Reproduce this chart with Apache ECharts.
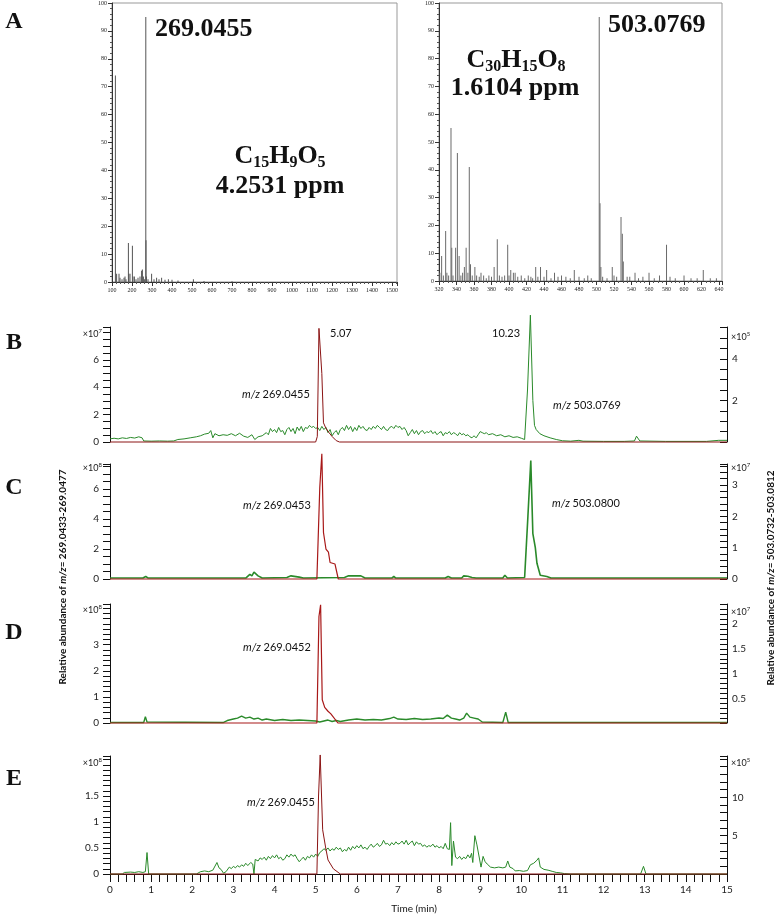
<!DOCTYPE html>
<html><head><meta charset="utf-8">
<script src="https://cdn.jsdelivr.net/npm/echarts@6/dist/echarts.min.js"></script>
<style>html,body{margin:0;padding:0;background:#fff}#c{width:779px;height:915px}</style>
</head><body><div id="c"></div>
<script>
// ---------- DATA ----------
// Panel A: mass spectra [m/z, relative abundance %]
const specLeft = [[117,74],[123,3],[135,3],[140,1.5],[150,1],[160,1.5],[165,2],[170,1],[182,14],[184,3],[190,3],[202,13],[205,2],[212,2],[220,1],[230,1.5],[240,2],[248,4],[252,4.5],[257,2],[262,1],[269,95],[270,15],[272,2],[280,1],[298,3],[310,1],[323,1.5],[335,1],[348,1.5],[365,0.8],[382,1],[400,0.8],[430,0.5],[507,1],[560,0.4],[700,0.3]];
const specRight = [[321,3],[323,9],[325,2],[327.6,18],[329,3],[331,2],[333.7,55],[334.6,12],[336,2],[339,12],[341,46],[343,9],[345,2],[347,3],[349,5],[351,12],[353,3],[354.6,41],[356,6],[358,2],[361,5],[363,2],[366,1.5],[368,3],[371,2],[374,1],[377,2],[380,1.5],[383,5],[386.6,15],[389,2],[392,1.5],[395,2],[398.5,13],[400,2],[402,4],[405,3],[407,3],[410,1.5],[414,2],[418,1],[422,2],[425,1.5],[427,1],[430.5,5],[433,1.5],[436,5],[440,1.5],[443,4],[448,1],[452,3],[456,1.5],[460,2],[465,1.5],[470,1],[474.6,4],[480,1.5],[486,1],[490,2],[494,1],[503.1,95],[504,28],[505,5],[507,1.5],[512,1],[518,5],[520,2],[523,1.5],[528,23],[529.5,17],[530.6,7],[535,1.5],[538,1.5],[544,3],[548,1],[553,1.5],[560,3],[566,1],[572,2],[580,13],[584,1.5],[590,1],[600,2],[608,1],[615,1],[622,4],[630,1],[637,1]];

// Panels B-E: chromatograms [time (min), abundance]
const bRed = [[0,0],[5.0,0],[5.04,0.4],[5.08,8.3],[5.11,8.4],[5.15,5.0],[5.19,1.4],[5.25,1.0],[5.32,0.7],[5.4,0.4],[5.5,0.1],[5.58,0],[15,0]];
const bGreen = [[0,0.15],[0.1,0.18],[0.2,0.15],[0.3,0.2],[0.4,0.17],[0.5,0.22],[0.6,0.19],[0.7,0.25],[0.78,0.2],[0.82,0.05],[1.0,0.04],[1.2,0.05],[1.4,0.04],[1.55,0.05],[1.65,0.12],[1.8,0.15],[1.95,0.2],[2.1,0.25],[2.2,0.3],[2.3,0.38],[2.4,0.42],[2.45,0.55],[2.5,0.2],[2.55,0.4],[2.65,0.3],[2.75,0.35],[2.85,0.32],[2.95,0.4],[3.05,0.3],[3.15,0.42],[3.25,0.28],[3.35,0.22],[3.45,0.35],[3.52,0.12],[3.6,0.25],[3.7,0.3],[3.8,0.45],[3.85,0.35],[3.9,0.65],[3.95,0.5],[4.0,0.6],[4.05,0.45],[4.1,0.7],[4.15,0.5],[4.2,0.55],[4.25,0.35],[4.3,0.6],[4.35,0.7],[4.4,0.5],[4.45,0.65],[4.5,0.4],[4.55,0.72],[4.6,0.55],[4.65,0.75],[4.7,0.5],[4.75,0.7],[4.8,0.65],[4.85,0.8],[4.9,0.7],[4.95,0.75],[5.0,0.65],[5.05,0.7],[5.1,0.55],[5.15,0.75],[5.2,0.6],[5.25,0.7],[5.3,0.45],[5.35,0.6],[5.4,0.3],[5.45,0.45],[5.5,0.55],[5.55,0.35],[5.6,0.6],[5.65,0.7],[5.7,0.55],[5.75,0.8],[5.8,0.6],[5.85,0.75],[5.9,0.5],[5.95,0.7],[6.0,0.55],[6.05,0.8],[6.1,0.65],[6.15,0.75],[6.2,0.6],[6.25,0.55],[6.3,0.7],[6.35,0.6],[6.4,0.75],[6.45,0.65],[6.5,0.8],[6.55,0.7],[6.6,0.6],[6.65,0.75],[6.7,0.6],[6.75,0.55],[6.8,0.7],[6.85,0.75],[6.9,0.65],[6.95,0.8],[7.0,0.7],[7.05,0.75],[7.1,0.6],[7.15,0.7],[7.2,0.55],[7.25,0.3],[7.3,0.45],[7.35,0.6],[7.4,0.4],[7.45,0.55],[7.5,0.35],[7.55,0.5],[7.6,0.55],[7.65,0.4],[7.7,0.5],[7.75,0.45],[7.8,0.55],[7.85,0.4],[7.9,0.5],[7.95,0.35],[8.0,0.45],[8.05,0.5],[8.1,0.3],[8.15,0.45],[8.2,0.4],[8.25,0.5],[8.3,0.35],[8.35,0.45],[8.4,0.4],[8.45,0.3],[8.5,0.45],[8.55,0.35],[8.6,0.4],[8.65,0.3],[8.7,0.35],[8.75,0.25],[8.8,0.2],[8.85,0.3],[8.9,0.2],[8.95,0.35],[9.0,0.5],[9.05,0.45],[9.1,0.4],[9.15,0.45],[9.2,0.35],[9.3,0.4],[9.4,0.3],[9.5,0.35],[9.6,0.25],[9.7,0.3],[9.8,0.22],[9.9,0.25],[10.0,0.18],[10.08,0.12],[10.15,2.5],[10.22,6.1],[10.28,2.0],[10.32,0.8],[10.36,0.6],[10.45,0.4],[10.55,0.3],[10.7,0.2],[10.85,0.12],[11.0,0.06],[11.2,0.04],[11.4,0.08],[11.5,0.04],[12.0,0.03],[12.5,0.03],[12.75,0.05],[12.8,0.28],[12.88,0.05],[13.5,0.03],[14.5,0.03],[14.8,0.08],[15.0,0.08]];
const cRed = [[0,0],[5.03,0],[5.1,6.1],[5.15,8.35],[5.19,3.1],[5.25,2.0],[5.31,1.8],[5.35,1.1],[5.47,1.0],[5.55,0],[15,0]];
const cGreen = [[0,0.03],[0.8,0.03],[0.87,0.08],[0.93,0.03],[3.3,0.03],[3.4,0.15],[3.45,0.1],[3.5,0.22],[3.6,0.1],[3.7,0.03],[4.3,0.05],[4.4,0.1],[4.6,0.06],[4.7,0.03],[5.7,0.05],[5.8,0.1],[6.1,0.1],[6.2,0.03],[6.85,0.03],[6.9,0.08],[6.95,0.03],[8.15,0.03],[8.22,0.08],[8.3,0.03],[8.55,0.03],[8.6,0.1],[8.7,0.09],[8.8,0.05],[8.9,0.03],[9.55,0.03],[9.6,0.12],[9.66,0.03],[10.08,0.05],[10.16,2.0],[10.23,3.78],[10.28,1.45],[10.34,1.0],[10.38,0.5],[10.46,0.12],[10.62,0.08],[10.72,0.03],[15,0.03]];
const dRed = [[0,0],[5.03,0],[5.08,4.08],[5.12,4.53],[5.16,0.89],[5.22,0.6],[5.3,0.45],[5.37,0.35],[5.54,0],[15,0]];
const dGreen = [[0,0.01],[0.82,0.01],[0.86,0.13],[0.9,0.02],[2.75,0.01],[2.85,0.05],[3.0,0.08],[3.1,0.1],[3.2,0.14],[3.3,0.1],[3.4,0.12],[3.5,0.08],[3.6,0.1],[3.7,0.06],[3.8,0.08],[4.0,0.05],[4.2,0.07],[4.4,0.05],[4.6,0.06],[4.8,0.05],[5.0,0.04],[5.1,0.02],[5.2,0.04],[5.3,0.06],[5.4,0.03],[5.5,0.05],[5.6,0.03],[5.8,0.06],[6.0,0.08],[6.2,0.06],[6.4,0.07],[6.6,0.06],[6.8,0.09],[6.9,0.12],[7.0,0.08],[7.2,0.07],[7.4,0.09],[7.6,0.07],[7.8,0.08],[8.0,0.1],[8.1,0.09],[8.2,0.16],[8.3,0.1],[8.4,0.08],[8.5,0.06],[8.6,0.1],[8.67,0.2],[8.75,0.12],[8.85,0.1],[8.95,0.08],[9.05,0.02],[9.55,0.01],[9.62,0.22],[9.68,0.01],[15,0.01]];
const eRed = [[0,0],[5.03,0],[5.07,1.5],[5.11,2.29],[5.17,0.85],[5.24,0.52],[5.3,0.27],[5.43,0.1],[5.6,0],[15,0]];
const eGreen = [[0,0],[0.3,0],[0.35,0.2],[0.5,0.25],[0.6,0.2],[0.7,0.3],[0.8,0.2],[0.86,0.3],[0.9,2.8],[0.94,0],[2.1,0],[2.2,0.3],[2.3,0.4],[2.4,0.3],[2.5,0.5],[2.6,1.5],[2.65,0.8],[2.7,0.6],[2.76,0.1],[2.82,0.3],[2.9,0.9],[2.95,0.7],[3.0,1.0],[3.05,0.8],[3.1,1.1],[3.15,0.9],[3.2,1.2],[3.25,1.0],[3.3,1.4],[3.35,1.1],[3.42,1.5],[3.47,1.3],[3.5,0],[3.53,1.9],[3.6,1.7],[3.65,2.1],[3.7,1.9],[3.75,2.2],[3.8,1.8],[3.85,2.3],[3.9,2.0],[3.95,2.4],[4.0,2.1],[4.05,2.5],[4.1,2.0],[4.15,2.2],[4.2,1.8],[4.25,2.0],[4.3,2.5],[4.35,2.2],[4.4,2.6],[4.45,2.3],[4.5,2.5],[4.55,2.0],[4.6,1.6],[4.65,1.9],[4.7,2.2],[4.75,1.8],[4.8,2.3],[4.85,2.1],[4.9,2.5],[4.95,2.2],[5.0,2.6],[5.05,2.3],[5.1,2.8],[5.15,3.0],[5.2,3.3],[5.25,3.1],[5.3,3.4],[5.35,3.0],[5.4,3.3],[5.45,3.1],[5.5,3.5],[5.55,3.2],[5.6,3.4],[5.65,2.9],[5.7,3.2],[5.75,3.0],[5.8,3.5],[5.85,3.1],[5.9,3.6],[5.95,3.3],[6.0,3.7],[6.05,3.4],[6.1,3.8],[6.15,3.3],[6.2,3.5],[6.25,3.2],[6.3,3.6],[6.35,3.9],[6.4,3.5],[6.45,3.7],[6.5,4.0],[6.55,3.6],[6.6,3.8],[6.65,4.4],[6.7,3.9],[6.75,4.0],[6.8,3.7],[6.85,4.1],[6.9,3.8],[6.95,4.2],[7.0,3.9],[7.05,4.0],[7.1,4.3],[7.15,3.9],[7.2,4.4],[7.25,3.8],[7.3,4.1],[7.35,4.3],[7.4,3.7],[7.45,4.2],[7.5,3.9],[7.55,4.0],[7.6,3.6],[7.65,3.8],[7.7,3.5],[7.75,3.7],[7.8,3.6],[7.85,3.9],[7.9,3.5],[7.95,3.7],[8.0,3.4],[8.05,3.6],[8.1,3.3],[8.15,4.0],[8.2,3.3],[8.25,3.2],[8.28,6.7],[8.31,1.1],[8.35,4.3],[8.4,2.2],[8.45,2.0],[8.5,2.3],[8.55,1.9],[8.6,2.2],[8.65,2.0],[8.7,2.5],[8.75,2.1],[8.79,2.7],[8.82,1.5],[8.87,5.0],[8.92,3.8],[8.96,3.9],[9.02,0.9],[9.07,2.3],[9.12,1.6],[9.17,1.3],[9.25,0.9],[9.35,0.8],[9.45,0.9],[9.55,0.8],[9.62,0.9],[9.67,1.7],[9.72,0.9],[9.8,0.7],[9.85,0.4],[9.95,0.45],[10.05,0.35],[10.15,0.45],[10.22,1.2],[10.3,1.4],[10.38,1.8],[10.42,2.1],[10.46,0.9],[10.55,0.6],[10.65,0.5],[10.75,0.35],[10.85,0.2],[10.95,0.15],[11.05,0.05],[11.2,0],[12.9,0],[12.97,1.0],[13.03,0],[15,0]];

// tick labels shown on each axis
const bLeftLabels = [0,2,4,6], bRightLabels = [2,4];
const cLeftLabels = [0,2,4,6], cRightLabels = [0,1,2,3];
const dLeftLabels = [0,1,2,3], dRightLabels = [0.5,1,1.5,2];
const eLeftLabels = [0,0.5,1,1.5], eRightLabels = [5,10];

// ---------- STYLE / LAYOUT ----------
const SANS = 'Lato, "Open Sans", sans-serif';
const SERIF = '"Liberation Serif", "Times New Roman", serif';
const RED = '#8b1414', RED2 = '#a81818', GREEN = '#2a8a2a';
const chart = echarts.init(document.getElementById('c'), null, {renderer: 'canvas'});

const gx = {left: 110, width: 617};
const grids = [
  {left: 112, top: 3, width: 285, height: 279, show: true, borderColor: '#999', borderWidth: 1},
  {left: 439, top: 3, width: 283, height: 278, show: true, borderColor: '#999', borderWidth: 1},
  {left: gx.left, width: gx.width, top: 327, height: 115},
  {left: gx.left, width: gx.width, top: 464, height: 115},
  {left: gx.left, width: gx.width, top: 604, height: 119},
  {left: gx.left, width: gx.width, top: 756, height: 118}
];

function specX(grid, min, max, interval, minor) {
  return {type: 'value', gridIndex: grid, min, max, interval, splitLine: {show: false},
    axisLine: {lineStyle: {color: '#333', width: 1}},
    axisTick: {length: 4, lineStyle: {color: '#333'}},
    minorTick: {show: true, splitNumber: minor, length: 2, lineStyle: {color: '#555'}},
    axisLabel: {fontSize: 6, fontFamily: SERIF, color: '#222', margin: 5, showMaxLabel: false,
      formatter: v => String(v)}};
}
function specY(grid) {
  return {type: 'value', gridIndex: grid, min: 0, max: 100, interval: 10, splitLine: {show: false},
    axisLine: {show: true, lineStyle: {color: '#333', width: 1}},
    axisTick: {show: true, length: 4, lineStyle: {color: '#333'}},
    minorTick: {show: true, splitNumber: 5, length: 2, lineStyle: {color: '#555'}},
    axisLabel: {fontSize: 6, fontFamily: SERIF, color: '#222', margin: 5, formatter: v => String(v)}};
}
function chromX(grid, show) {
  return {type: 'value', gridIndex: grid, min: 0, max: 15, interval: 1, show,
    splitLine: {show: false},
    axisLine: {onZero: false, lineStyle: {color: '#111', width: 1}},
    axisTick: {length: 8, lineStyle: {color: '#111'}},
    minorTick: {show: true, splitNumber: 5, length: 8, lineStyle: {color: '#111'}},
    axisLabel: {fontSize: 10, fontFamily: SANS, color: '#222', margin: 11}};
}
function chromY(grid, pos, max, interval, minor, labels, exp, gap) {
  const left = pos === 'left';
  return {type: 'value', gridIndex: grid, position: pos, min: 0, max, interval,
    splitLine: {show: false},
    axisLine: {show: true, onZero: false, lineStyle: {color: '#111', width: 1}},
    axisTick: {show: true, inside: !left, length: 7, lineStyle: {color: '#111'}},
    minorTick: {show: true, splitNumber: minor, length: 7, lineStyle: {color: '#111'}},
    axisLabel: {fontSize: 10, fontFamily: SANS, color: '#222', margin: left ? 11 : 5,
      formatter: v => labels.some(l => Math.abs(l - v) < 1e-9) ? String(v) : ''},
    name: '×10{s|' + exp + '}', nameLocation: 'end', nameGap: gap,
    nameTextStyle: {fontSize: 9, fontFamily: SANS, color: '#222', lineHeight: 12,
      align: left ? 'right' : 'left', verticalAlign: 'middle',
      padding: left ? [0, 8, 0, 0] : [0, 0, 0, 4],
      rich: {s: {fontSize: 6, fontFamily: SANS, color: '#222', lineHeight: 6, verticalAlign: 'top'}}}};
}

const xAxis = [
  specX(0, 100, 1525, 100, 5),
  specX(1, 320, 643.4, 20, 4),
  chromX(2, false), chromX(3, false), chromX(4, false), chromX(5, true)
];
const yAxis = [
  specY(0), specY(1),
  chromY(2, 'left', 8.4, 2, 4, bLeftLabels, 7, -7),
  chromY(2, 'right', 5.53, 2, 4, bRightLabels, 5, -10),
  chromY(3, 'left', 7.67, 2, 4, cLeftLabels, 8, -4),
  chromY(3, 'right', 3.67, 1, 5, cRightLabels, 7, -4),
  chromY(4, 'left', 4.56, 1, 5, dLeftLabels, 8, -6),
  chromY(4, 'right', 2.41, 0.5, 5, dRightLabels, 7, -8),
  chromY(5, 'left', 2.27, 0.5, 5, eLeftLabels, 8, -7),
  chromY(5, 'right', 15.4, 5, 5, eRightLabels, 5, -7)
];

function line(data, xi, yi, color, w) {
  return {type: 'line', data, xAxisIndex: xi, yAxisIndex: yi, showSymbol: false, symbol: 'none',
    clip: false, lineStyle: {color, width: w}, z: color === GREEN ? 2 : 3, animation: false};
}
const series = [
  {type: 'bar', data: specLeft, xAxisIndex: 0, yAxisIndex: 0, barWidth: 1, itemStyle: {color: '#555'}, animation: false},
  {type: 'bar', data: specRight, xAxisIndex: 1, yAxisIndex: 1, barWidth: 1, itemStyle: {color: '#6a6a6a'}, animation: false},
  line(bGreen, 2, 3, GREEN, 1), line(bRed, 2, 2, RED, 1),
  line(cGreen, 3, 5, GREEN, 1.6), line(cRed, 3, 4, RED2, 1.2),
  line(dGreen, 4, 7, GREEN, 1.4), line(dRed, 4, 6, RED2, 1.2),
  line(eGreen, 5, 9, GREEN, 1), line(eRed, 5, 8, RED, 1)
];

function txt(x, y, text, o) {
  o = o || {};
  return {type: 'text', x, y, rotation: o.rot || 0, z: 10,
    style: {text, fill: o.color || '#111', fontSize: o.size || 11, fontFamily: o.family || SANS,
      fontWeight: o.weight || 'normal', align: o.align || 'left', verticalAlign: 'middle',
      lineHeight: o.lh, rich: o.rich}};
}
const it11 = {i: {fontStyle: 'italic', fontSize: 11, fontFamily: SANS, fill: '#111'}};
const bigT = {size: 26, family: SERIF, weight: 'bold'};
const formulaRich = {sub: {fontSize: 16, fontFamily: SERIF, fontWeight: 'bold', lineHeight: 10, verticalAlign: 'bottom', fill: '#111'}};
const titleRich = {i: {fontStyle: 'italic', fontWeight: 'bold', fontSize: 10, fontFamily: SANS, fill: '#111'}};

const graphic = [
  txt(14, 22, 'A', {size: 24, family: SERIF, weight: 'bold', align: 'center'}),
  txt(14, 343, 'B', {size: 24, family: SERIF, weight: 'bold', align: 'center'}),
  txt(14, 488, 'C', {size: 24, family: SERIF, weight: 'bold', align: 'center'}),
  txt(14, 633, 'D', {size: 24, family: SERIF, weight: 'bold', align: 'center'}),
  txt(14, 779, 'E', {size: 24, family: SERIF, weight: 'bold', align: 'center'}),
  txt(155, 29, '269.0455', bigT),
  txt(280, 156, 'C{sub|15}H{sub|9}O{sub|5}', Object.assign({align: 'center', lh: 30, rich: formulaRich}, bigT)),
  txt(280, 186, '4.2531 ppm', Object.assign({align: 'center'}, bigT)),
  txt(608, 25, '503.0769', bigT),
  txt(516, 60, 'C{sub|30}H{sub|15}O{sub|8}', Object.assign({align: 'center', lh: 30, rich: formulaRich}, bigT)),
  txt(515, 88, '1.6104 ppm', Object.assign({align: 'center'}, bigT)),
  txt(330, 333, '5.07'),
  txt(492, 333, '10.23'),
  txt(242, 394, '{i|m/z} 269.0455', {rich: it11}),
  txt(553, 405, '{i|m/z} 503.0769', {rich: it11}),
  txt(243, 505, '{i|m/z} 269.0453', {rich: it11}),
  txt(552, 503, '{i|m/z} 503.0800', {rich: it11}),
  txt(243, 647, '{i|m/z} 269.0452', {rich: it11}),
  txt(247, 802, '{i|m/z} 269.0455', {rich: it11}),
  txt(414, 909, 'Time (min)', {size: 10, align: 'center'}),
  txt(63, 577, 'Relative abundance of {i|m/z}= 269.0433-269.0477', {size: 10, weight: 'bold', align: 'center', rot: Math.PI / 2, rich: titleRich}),
  txt(771, 578, 'Relative abundance of {i|m/z}= 503.0732-503.0812', {size: 10, weight: 'bold', align: 'center', rot: Math.PI / 2, rich: titleRich})
];

chart.setOption({
  animation: false,
  backgroundColor: '#fff',
  grid: grids, xAxis, yAxis, series, graphic
});
</script></body></html>
